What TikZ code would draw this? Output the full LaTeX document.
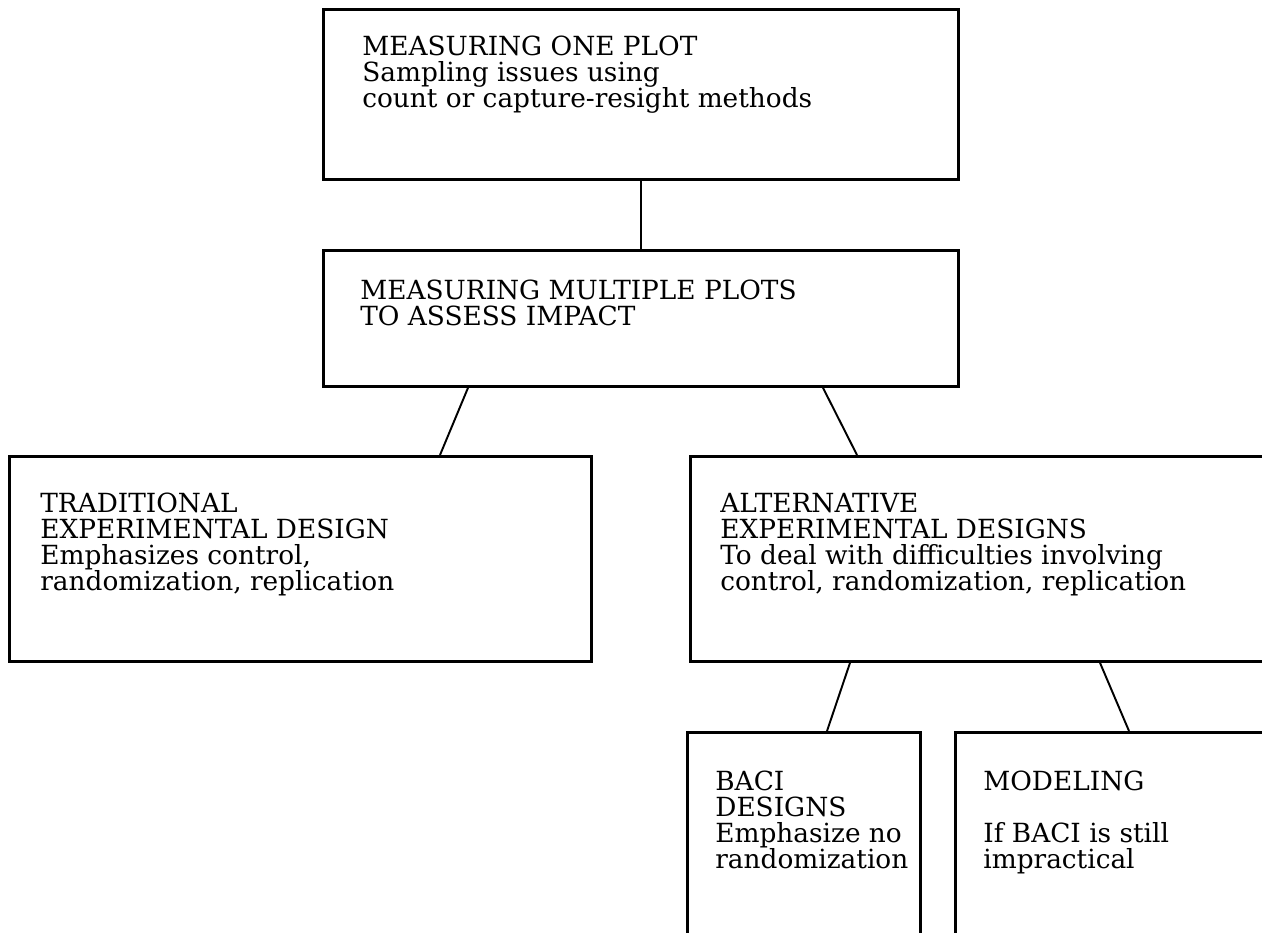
\documentclass[tikz,border=0pt]{standalone}
\usepackage{fontspec}
\setmainfont{DejaVu Serif}
\usetikzlibrary{positioning}

\begin{document}
\begin{tikzpicture}
    [
    box/.style={draw,line width=1.6pt,anchor=north west,inner sep=0pt},
    txt/.style={align=left,inner sep=0pt,font=\fontsize{15}{14.8}\selectfont},
    link/.style={line width=1.1pt}
    ]
    \clip[use as bounding box] (0,0) rectangle (25.24,-18.64);

    \node (one) at (6.44,-0.16) [box, minimum width=12.7cm, minimum height=3.4cm] {};
    \node (multi) at (6.44,-4.98) [box, minimum width=12.7cm, minimum height=2.72cm] {};
    \node (trad) at (0.16,-9.1) [box, minimum width=11.64cm, minimum height=4.1cm] {};
    \node (alt) at (13.78,-9.1) [box, minimum width=13cm, minimum height=4.1cm] {};
    \node (baci) at (13.72,-14.62) [box, minimum width=4.66cm, minimum height=5cm] {};
    \node (mod) at (19.08,-14.62) [box, minimum width=8cm, minimum height=5cm] {};

    \node (tone) [txt, below right=5.6mm and 8mm of one.north west]
      {MEASURING ONE PLOT\\Sampling issues using\\count or capture-resight methods};
    \node (tmulti) [txt, below right=6.2mm and 7.6mm of multi.north west]
      {MEASURING MULTIPLE PLOTS\\TO ASSESS IMPACT};
    \node (ttrad) [txt, below right=7.6mm and 6.4mm of trad.north west]
      {TRADITIONAL\\EXPERIMENTAL DESIGN\\Emphasizes control,\\randomization, replication};
    \node (talt) [txt, below right=7.6mm and 6.2mm of alt.north west]
      {ALTERNATIVE\\EXPERIMENTAL DESIGNS\\To deal with difficulties involving\\control, randomization, replication};
    \node (tbaci) [txt, below right=8mm and 5.8mm of baci.north west]
      {BACI\\DESIGNS\\Emphasize no\\randomization};
    \node (tmod) [txt, below right=8mm and 5.8mm of mod.north west]
      {MODELING\\[14.8pt]If BACI is still\\impractical};

    \draw [link] (one) to (multi);
    \draw [link] ([xshift=2.92cm]multi.south west) to ([xshift=8.64cm]trad.north west);
    \draw [link] ([xshift=10.02cm]multi.south west) to ([xshift=3.36cm]alt.north west);
    \draw [link] ([xshift=3.22cm]alt.south west) to ([xshift=2.82cm]baci.north west);
    \draw [link] ([xshift=8.22cm]alt.south west) to ([xshift=3.5cm]mod.north west);
\end{tikzpicture}
\end{document}
